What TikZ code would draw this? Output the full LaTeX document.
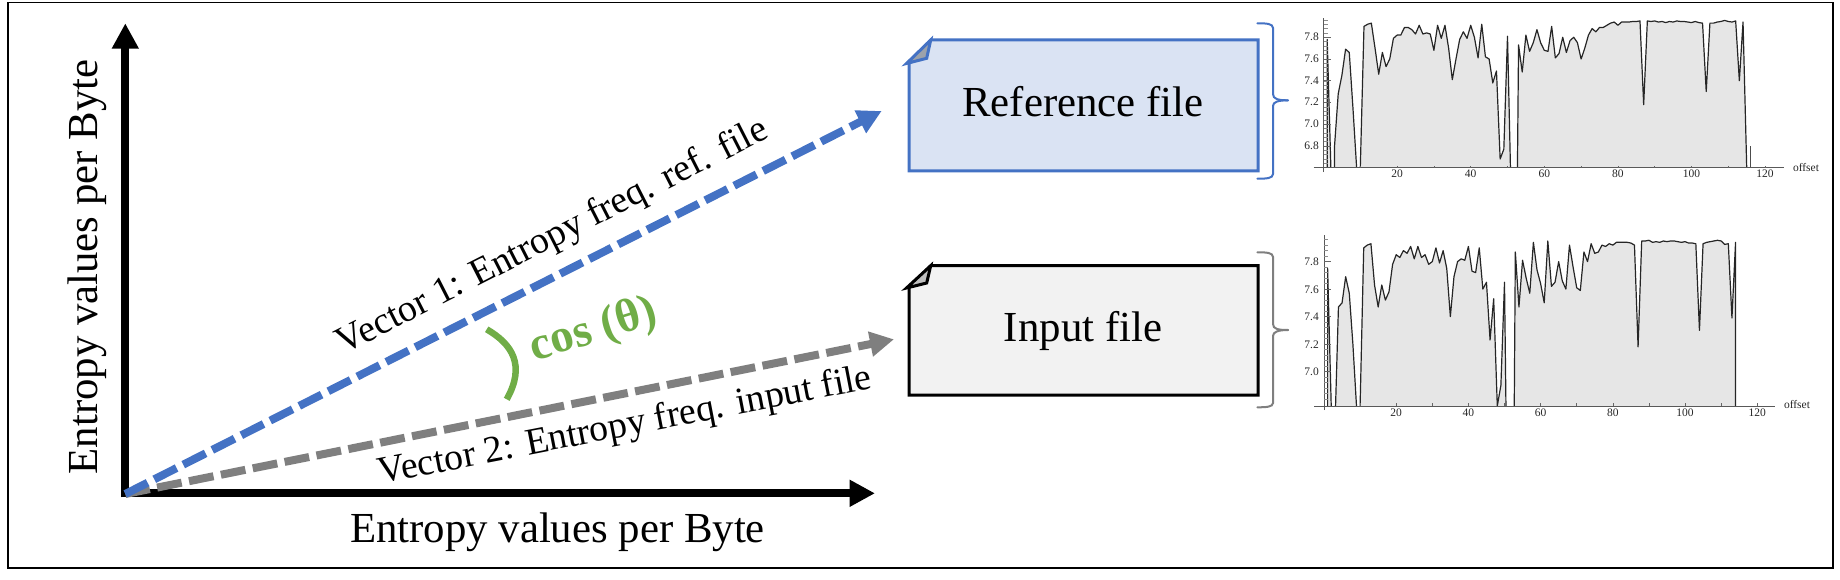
\documentclass[tikz,border=0pt]{standalone}
\usepackage{fontspec}
\setmainfont{Liberation Serif}
\usetikzlibrary{arrows.meta}
\definecolor{vblue}{HTML}{4472C4}
\definecolor{vgray}{HTML}{7F7F7F}
\definecolor{vgreen}{HTML}{70AD47}
\definecolor{bluefill}{HTML}{DAE3F3}
\definecolor{grayfill}{HTML}{F2F2F2}
\definecolor{plotfill}{HTML}{E6E6E6}
\tikzset{
  axisline/.style={line width=8pt,draw=black,-{Triangle[length=25.4pt,width=25.4pt]}},
  vecblue/.style={line width=8pt,draw=vblue,dash pattern=on 25pt off 7.5pt,-{Triangle[length=24pt,width=24pt]}},
  vecgray/.style={line width=8pt,draw=vgray,dash pattern=on 25pt off 7.5pt,-{Triangle[length=24pt,width=24pt]}},
  bigtext/.style={font=\fontsize{42.8}{50}\selectfont,text=black,inner sep=0pt,anchor=base},
  vectext/.style={font=\fontsize{37.8}{46}\selectfont,text=black,inner sep=0pt,anchor=base},
  filebox/.style={line width=3pt,miter limit=10},
  bracestyle/.style={line width=2pt,line cap=round},
  plotline/.style={line width=1.2pt,draw=black!85,line join=round},
  plotarea/.style={fill=plotfill},
  axisthin/.style={line width=.8pt,draw=black!65},
  ticklabel/.style={font=\fontsize{11.5}{13}\selectfont,text=black!85,inner sep=0pt},
}
\begin{document}
\begin{tikzpicture}[x=1pt,y=-1pt]
\useasboundingbox (0,0) rectangle (1840,580);
\draw[line width=1.2pt,black] (8,2.5) rectangle (1833,568);

% coordinates
\coordinate (O) at (125.3,493.3);
\coordinate (Ybase) at (125.3,497.3);
\coordinate (Ytip) at (125.3,23.3);
\coordinate (Xbase) at (121.3,493.3);
\coordinate (Xtip) at (875,493.3);
\coordinate (Vstart) at (125.3,494);
\coordinate (Vonetip) at (881.7,111);
\coordinate (Vtwotip) at (894,339.3);

\draw[axisline] (Ybase) -- (Ytip);
\draw[axisline] (Xbase) -- (Xtip);
\draw[vecgray] (Vstart) -- (Vtwotip);
\draw[vecblue] (Vstart) -- (Vonetip);

\coordinate (Aa) at (486.7,329.3);
\coordinate (Ab) at (506.7,399.3);
\draw[vgreen,line width=6.5pt] (Aa) .. controls (512,344) and (526,365) .. (Ab);

\node[bigtext] (xlabel) at (557.5,542.5) {Entropy values per Byte};
\node[bigtext,rotate=90] (ylabel) at (97,267) {Entropy values per Byte};
\node[vectext,rotate=27] (vone) at (557,246) {Vector 1: Entropy freq. ref. file};
\node[vectext,rotate=11] (vtwo) at (627,436) {Vector 2: Entropy freq. input file};
\node[inner sep=0pt,anchor=base,rotate=17,text=vgreen,font=\fontsize{47}{54}\selectfont\bfseries] (cosl) at (597,342) {cos (θ)};

% Reference box
\draw[filebox,draw=vblue,fill=bluefill] (909,63.3) -- (930.7,40) -- (1258,40) -- (1258,171) -- (909,171) -- cycle;
\draw[filebox,draw=vblue,fill=black!25!bluefill!80!gray] (906.5,63.5) -- (926.7,58.3) -- (930.7,40) -- cycle;
\node[bigtext] (reflabel) at (1083,117) {Reference file};
% Input box
\draw[filebox,draw=black,fill=grayfill] (909,287.7) -- (930.7,265.7) -- (1258,265.7) -- (1258,395) -- (909,395) -- cycle;
\draw[filebox,draw=black,fill=black!25] (906.5,288) -- (926.7,283) -- (930.7,265.7) -- cycle;
\node[bigtext] (inplabel) at (1083,341.5) {Input file};

% Braces
\coordinate (Ba) at (1257.3,23.3);
\coordinate (Bb) at (1257.3,178.7);
\coordinate (Bt) at (1288,100.3);
\draw[bracestyle,draw=vblue] (Ba) .. controls (1266,23.3) and (1273,23.5) .. (1273,28) -- (1273,94) .. controls (1273,99) and (1278,100.3) .. (Bt);
\draw[bracestyle,draw=vblue] (Bb) .. controls (1266,178.7) and (1273,178.5) .. (1273,174) -- (1273,106) .. controls (1273,102) and (1278,100.3) .. (Bt);
\coordinate (Ca) at (1257.3,252.3);
\coordinate (Cb) at (1257.3,407.3);
\coordinate (Ct) at (1288,330);
\draw[bracestyle,draw=vgray] (Ca) .. controls (1266,252.3) and (1273,252.5) .. (1273,257) -- (1273,324) .. controls (1273,329) and (1278,330) .. (Ct);
\draw[bracestyle,draw=vgray] (Cb) .. controls (1266,407.3) and (1273,407) .. (1273,403) -- (1273,336) .. controls (1273,332) and (1278,330) .. (Ct);

% Chart 1
\begin{scope}[x=3.68pt,y=108.7pt,shift={(1323.5pt,-885.12pt)}]
\def\sa{(1,6.6) -- (1,7.78) -- (2,6.6)}
\def\sb{(3,6.6) -- (3,6.8) -- (4,7.28) -- (5,7.45) -- (6,7.69) -- (7,7.66) -- (8,7.15) -- (9,6.6)}
\def\sc{(10,6.6) -- (11,7.9) -- (12,7.92) -- (13,7.93) -- (14,7.7) -- (15,7.46) -- (16,7.66) -- (17,7.53) -- (18,7.6) -- (19,7.79) -- (20,7.82) -- (21,7.82) -- (22,7.89) -- (23,7.89) -- (24,7.87) -- (25,7.83) -- (26,7.91) -- (27,7.83) -- (28,7.84) -- (29,7.83) -- (30,7.68) -- (31,7.91) -- (32,7.79) -- (33,7.91) -- (34,7.7) -- (35,7.41) -- (36,7.6) -- (37,7.78) -- (38,7.85) -- (39,7.79) -- (40,7.91) -- (41,7.8) -- (42,7.61) -- (43,7.92) -- (44,7.62) -- (45,7.6) -- (46,7.38) -- (47,7.49) -- (48,6.68) -- (49,6.77) -- (50,7.81) -- (50.8,6.6)}
\def\sd{(52.7,6.6) -- (53,7.73) -- (54,7.48) -- (55,7.82) -- (56,7.67) -- (57,7.75) -- (58,7.87) -- (59,7.75) -- (60,7.68) -- (61,7.67) -- (62,7.9) -- (63,7.61) -- (64,7.65) -- (65,7.8) -- (66,7.66) -- (67,7.77) -- (68,7.8) -- (69,7.75) -- (70,7.6) -- (71,7.7) -- (72,7.82) -- (73,7.88) -- (74,7.85) -- (75,7.89) -- (76,7.89) -- (77,7.91) -- (78,7.93) -- (79,7.94) -- (80,7.91) -- (81,7.94) -- (82,7.94) -- (83,7.94) -- (84,7.945) -- (85,7.945) -- (86,7.95) -- (87,7.18) -- (88,7.95) -- (89,7.945) -- (90,7.95) -- (91,7.94) -- (92,7.945) -- (93,7.935) -- (94,7.945) -- (95,7.94) -- (96,7.95) -- (97,7.945) -- (98,7.945) -- (99,7.94) -- (100,7.935) -- (101,7.945) -- (102,7.935) -- (103,7.93) -- (104,7.3) -- (105,7.93) -- (106,7.93) -- (107,7.94) -- (108,7.945) -- (109,7.955) -- (110,7.945) -- (111,7.94) -- (112,7.95) -- (113,7.4) -- (114,7.94) -- (115,6.6)}
\fill[plotarea] \sa -- cycle;
\fill[plotarea] \sb -- cycle;
\fill[plotarea] \sc -- cycle;
\fill[plotarea] \sd -- cycle;
\draw[plotline] \sa; \draw[plotline] \sb; \draw[plotline] \sc; \draw[plotline] \sd;
\draw[line width=1pt,draw=black!70] (116,6.6) -- (116,6.8);
\draw[axisthin] (-2.7,6.6) -- (125,6.6);
\draw[axisthin] (0,6.56) -- (0,7.98);
\foreach \t in {6.64,6.68,...,7.98} \draw[line width=.5pt,black!45] (0,\t) -- (1.1,\t);
\foreach \t in {6.8,7.0,7.2,7.4,7.6,7.8} \draw[line width=.6pt,black!60] (0,\t) -- (2,\t);
\foreach \t in {10,20,...,120} \draw[line width=.5pt,black!60] (\t,6.6) -- (\t,6.62);
\end{scope}
\foreach \lab/\yy in {7.8/37,7.6/58.7,7.4/80.5,7.2/102.2,7.0/124,6.8/146}
  \node[ticklabel,anchor=east] (ca\lab) at (1319,\yy) {\lab};
\foreach \v/\xx in {20/1397,40/1470.7,60/1544.3,80/1617.9,100/1691.5,120/1765.1}
  \node[ticklabel] (cax\v) at (\xx,174) {\v};
\node[ticklabel] (caoff) at (1806,168) {offset};

% Chart 2
\begin{scope}[x=3.61pt,y=137.5pt,shift={(1324pt,-1334.1pt)}]
\def\sa{(1,6.75) -- (1,7.75) -- (2,6.75)}
\def\sb{(3.2,6.75) -- (4,7.47) -- (5,7.5) -- (6,7.69) -- (7,7.57) -- (8,7.2) -- (9,6.75)}
\def\sc{(10,6.75) -- (11,7.9) -- (12,7.92) -- (13,7.93) -- (14,7.63) -- (15,7.47) -- (16,7.63) -- (17,7.52) -- (18,7.58) -- (19,7.78) -- (20,7.85) -- (21,7.83) -- (22,7.88) -- (23,7.86) -- (24,7.91) -- (25,7.82) -- (26,7.91) -- (27,7.83) -- (28,7.85) -- (29,7.78) -- (30,7.8) -- (31,7.9) -- (32,7.79) -- (33,7.88) -- (34,7.75) -- (35,7.4) -- (36,7.69) -- (37,7.8) -- (38,7.82) -- (39,7.81) -- (40,7.91) -- (41,7.73) -- (42,7.72) -- (43,7.9) -- (44,7.6) -- (45,7.65) -- (46,7.23) -- (47,7.53) -- (48,6.75) -- (49,6.9) -- (50,7.65) -- (50.4,6.75)}
\def\sd{(52.7,6.75) -- (53,7.87) -- (54,7.47) -- (55,7.81) -- (56,7.68) -- (57,7.57) -- (58,7.94) -- (59,7.74) -- (60,7.64) -- (61,7.5) -- (62,7.95) -- (63,7.62) -- (64,7.65) -- (65,7.8) -- (66,7.66) -- (67,7.6) -- (68,7.92) -- (69,7.76) -- (70,7.61) -- (71,7.59) -- (72,7.87) -- (73,7.8) -- (74,7.93) -- (75,7.86) -- (76,7.87) -- (77,7.92) -- (78,7.91) -- (79,7.93) -- (80,7.92) -- (81,7.94) -- (82,7.94) -- (83,7.94) -- (84,7.94) -- (85,7.935) -- (86,7.92) -- (87,7.18) -- (88,7.95) -- (89,7.95) -- (90,7.955) -- (91,7.94) -- (92,7.945) -- (93,7.94) -- (94,7.95) -- (95,7.945) -- (96,7.95) -- (97,7.95) -- (98,7.945) -- (99,7.94) -- (100,7.945) -- (101,7.935) -- (102,7.935) -- (103,7.93) -- (104,7.3) -- (105,7.93) -- (106,7.94) -- (107,7.945) -- (108,7.95) -- (109,7.955) -- (110,7.95) -- (111,7.925) -- (112,7.93) -- (113,7.39) -- (114,7.94) -- (114,6.75)}
\fill[plotarea] \sa -- cycle;
\fill[plotarea] \sb -- cycle;
\fill[plotarea] \sc -- cycle;
\fill[plotarea] \sd -- cycle;
\draw[plotline] \sa; \draw[plotline] \sb; \draw[plotline] \sc; \draw[plotline] \sd;
\draw[axisthin] (-2.7,6.75) -- (125,6.75);
\draw[axisthin] (0,6.72) -- (0,7.99);
\foreach \t in {6.8,6.84,...,7.98} \draw[line width=.5pt,black!45] (0,\t) -- (1.1,\t);
\foreach \t in {7.0,7.2,7.4,7.6,7.8} \draw[line width=.6pt,black!60] (0,\t) -- (2,\t);
\foreach \t in {10,20,...,120} \draw[line width=.5pt,black!60] (\t,6.75) -- (\t,6.77);
\end{scope}
\foreach \lab/\yy in {7.8/262,7.6/289.5,7.4/317,7.2/344.5,7.0/372}
  \node[ticklabel,anchor=east] (cb\lab) at (1319,\yy) {\lab};
\foreach \v/\xx in {20/1396.2,40/1468.4,60/1540.6,80/1612.8,100/1685,120/1757.2}
  \node[ticklabel] (cbx\v) at (\xx,413) {\v};
\node[ticklabel] (cboff) at (1797,405) {offset};
\end{tikzpicture}
\end{document}
